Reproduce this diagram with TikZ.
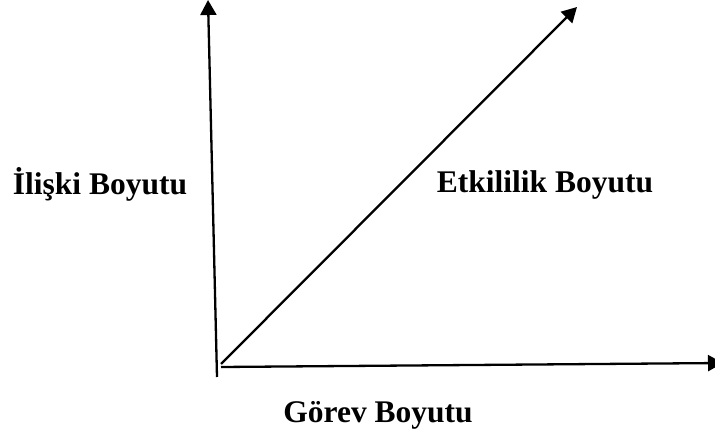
\documentclass[tikz,border=0pt]{standalone}
\usepackage{fontspec}
\setmainfont{Liberation Serif}
\usetikzlibrary{arrows.meta}
\begin{document}
\begin{tikzpicture}[x=1pt,y=-1pt,
  axis/.style={line width=2.3pt,-{Triangle[length=15pt,width=16pt]}},
  lbl/.style={font=\fontsize{31.5}{36}\selectfont\bfseries,anchor=base,inner sep=0pt}]
\useasboundingbox (0,0) rectangle (715,438);
\coordinate (vbot) at (217,377);
\coordinate (vtop) at (208,0);
\coordinate (dstart) at (221,364);
\coordinate (dtip) at (577,7);
\coordinate (hstart) at (221,367);
\coordinate (htip) at (723,363);
\draw[axis] (vbot) -- (vtop);
\draw[axis] (dstart) -- (dtip);
\draw[axis] (hstart) -- (htip);
\node[lbl] (iliski) at (100,195) {İlişki Boyutu};
\node[lbl] (etki) at (545,193) {Etkililik Boyutu};
\node[lbl] (gorev) at (378,422) {Görev Boyutu};
\end{tikzpicture}
\end{document}
